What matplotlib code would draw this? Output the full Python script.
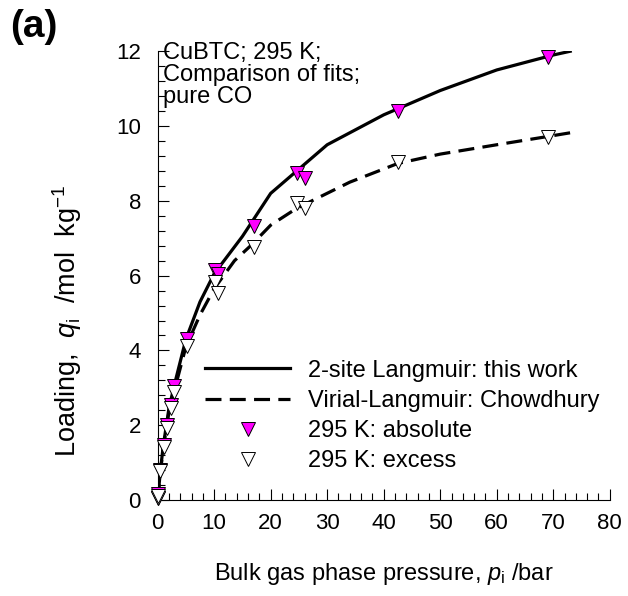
import numpy as np
import matplotlib
matplotlib.use('Agg')
import matplotlib.pyplot as plt
from matplotlib.ticker import MultipleLocator

plt.rcParams['font.family'] = ['Liberation Sans', 'DejaVu Sans']
plt.rcParams['mathtext.fontset'] = 'custom'
plt.rcParams['mathtext.rm'] = 'Liberation Sans'
plt.rcParams['mathtext.it'] = 'Liberation Sans:italic'

# experimental data, CuBTC 295 K, pure CO
p_exp = [0.05, 0.15, 0.5, 1.1, 1.6, 2.3, 2.9, 5.2, 10.2, 10.6, 17.0, 24.6, 26.0, 42.5, 69.0]
q_abs = [0.05, 0.15, 0.8, 1.48, 2.0, 2.55, 3.05, 4.3, 6.15, 6.05, 7.33, 8.75, 8.6, 10.4, 11.85]
q_exc = [0.05, 0.12, 0.78, 1.42, 1.92, 2.45, 2.9, 4.12, 5.83, 5.53, 6.77, 7.95, 7.8, 9.05, 9.72]

# fits
p_fit1 = [0, 0.5, 1, 2, 3, 5, 7.5, 10, 15, 20, 30, 40, 50, 60, 70, 73]
q_fit1 = [0, 0.8, 1.45, 2.45, 3.1, 4.3, 5.3, 6.05, 7.05, 8.2, 9.5, 10.3, 10.95, 11.5, 11.9, 12.0]
p_fit2 = [0, 0.5, 1, 2, 3, 5, 7.5, 10, 13.6, 16.6, 20, 24.6, 34, 42.5, 50, 60, 69, 73.8]
q_fit2 = [0, 0.75, 1.4, 2.35, 2.95, 4.1, 4.95, 5.65, 6.4, 6.82, 7.35, 7.8, 8.5, 9.0, 9.25, 9.5, 9.72, 9.84]

FS = 17

fig = plt.figure(figsize=(6.28, 5.96), dpi=100)
ax = fig.add_axes([0.251, 0.161, 0.72, 0.753])

ax.plot(p_fit1, q_fit1, '-', color='black', lw=2.3, label='2-site Langmuir: this work', zorder=2)
ax.plot(p_fit2, q_fit2, '--', color='black', lw=2.3, dashes=(5, 2.6),
        label='Virial-Langmuir: Chowdhury', zorder=2)
ax.plot(p_exp, q_abs, 'v', ms=10, mfc='#ff00ff', mec='black', mew=0.7, ls='none',
        label='295 K: absolute', zorder=3, clip_on=False)
ax.plot(p_exp, q_exc, 'v', ms=10, mfc='white', mec='black', mew=0.7, ls='none',
        label='295 K: excess', zorder=4, clip_on=False)

ax.set_xlim(0, 80)
ax.set_ylim(0, 12)
ax.xaxis.set_major_locator(MultipleLocator(10))
ax.xaxis.set_minor_locator(MultipleLocator(2))
ax.yaxis.set_major_locator(MultipleLocator(2))
ax.yaxis.set_minor_locator(MultipleLocator(0.4))
ax.tick_params(which='both', direction='in', labelsize=16, width=0.8)
ax.tick_params(which='major', length=8)
ax.tick_params(axis='x', which='major', pad=9)
ax.tick_params(axis='y', which='major', pad=12)
ax.tick_params(which='minor', length=5)
ax.spines['top'].set_visible(False)
ax.spines['right'].set_visible(False)
ax.spines['left'].set_linewidth(0.8)
ax.spines['bottom'].set_linewidth(0.8)

ax.set_xlabel(r'Bulk gas phase pressure, $\mathit{p}_\mathrm{i}$ /bar', fontsize=FS, labelpad=20)
ax.set_ylabel(r'Loading,  $\mathit{q}_\mathrm{i}$  /mol  kg$^{-1}$', fontsize=19.5)
ax.yaxis.set_label_coords(-0.163, 0.40)

ax.text(0.012, 1.02, 'CuBTC; 295 K;\nComparison of fits;\npure CO', transform=ax.transAxes,
        fontsize=FS, va='top', ha='left', linespacing=1.0)
fig.text(0.016, 0.985, '(a)', fontsize=28, fontweight='bold', va='top', ha='left')

ax.legend(loc='upper left', bbox_to_anchor=(0.105, 0.313), frameon=False, fontsize=FS,
          handlelength=3.6, handletextpad=0.75, labelspacing=0.35, borderpad=0, borderaxespad=0)

fig.savefig('out.png', dpi=100)
